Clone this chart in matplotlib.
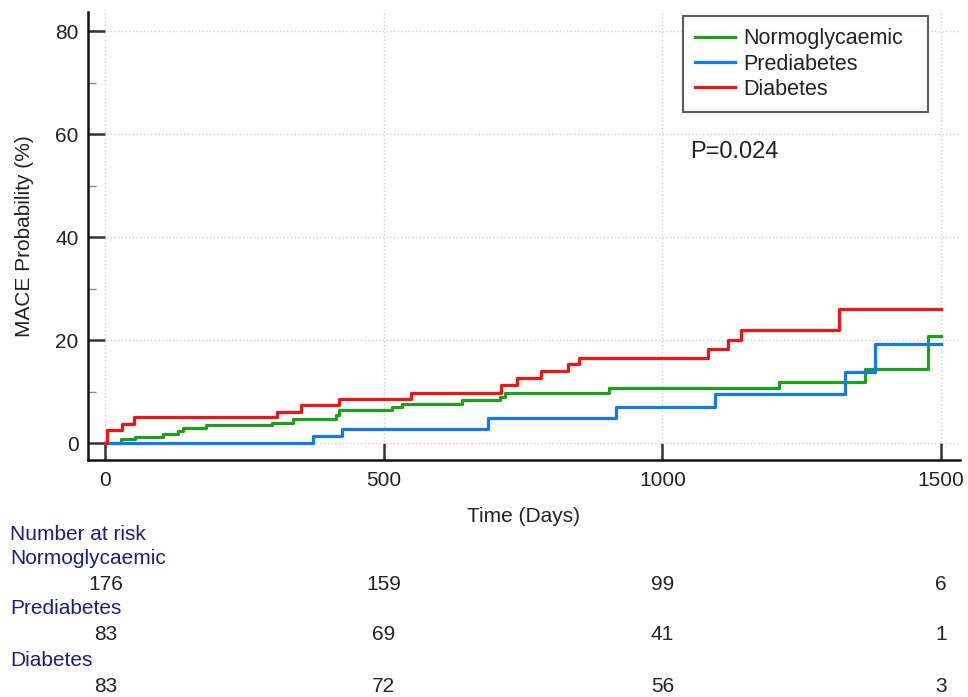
import matplotlib
matplotlib.use("Agg")
import matplotlib.pyplot as plt
from matplotlib.transforms import blended_transform_factory
from matplotlib.ticker import MultipleLocator

plt.rcParams['font.family'] = ['Liberation Sans', 'DejaVu Sans']

# ---- data ----
normo_days = [0, 28, 53, 103, 131, 139, 181, 299, 336, 414, 420, 515, 532, 640, 709, 718, 904, 1210, 1363, 1476, 1500]
normo_prob = [0, 0.7, 1.2, 1.7, 2.3, 3.0, 3.5, 3.9, 4.7, 5.4, 6.4, 6.9, 7.6, 8.3, 9.0, 9.8, 10.6, 11.9, 14.3, 20.8, 20.8]

pre_days = [0, 373, 425, 687, 917, 1094, 1327, 1382, 1500]
pre_prob = [0, 1.4, 2.7, 4.8, 6.9, 9.5, 13.8, 19.2, 19.2]

dia_days = [0, 3, 30, 52, 308, 351, 419, 548, 710, 739, 782, 831, 851, 1082, 1118, 1141, 1317, 1500]
dia_prob = [0, 2.5, 3.7, 5.0, 6.1, 7.3, 8.6, 9.8, 11.3, 12.6, 14.0, 15.3, 16.6, 18.3, 20.1, 21.9, 26.0, 26.0]

groups = ['Normoglycaemic', 'Prediabetes', 'Diabetes']
risk_times = [0, 500, 1000, 1500]
risk_normo = [176, 159, 99, 6]
risk_pre = [83, 69, 41, 1]
risk_dia = [83, 72, 56, 3]

x_ticks = [0, 500, 1000, 1500]
y_ticks = [0, 20, 40, 60, 80]
p_text = 'P=0.024'

# ---- style ----
c_green = '#1ea01e'
c_blue = '#1478ee'
c_red = '#f01414'
navy = '#1c1c8a'
fs = 15
tc = '#222222'

fig = plt.figure(figsize=(9.68, 6.97), dpi=100)
W, H = 968, 697
ax = fig.add_axes([87.5 / W, 1 - 460 / H, (960 - 87.5) / W, (460 - 12) / H])

ax.step(normo_days, normo_prob, where='post', color=c_green, lw=2.3, label=groups[0])
ax.step(pre_days, pre_prob, where='post', color=c_blue, lw=2.3, label=groups[1])
ax.step(dia_days, dia_prob, where='post', color=c_red, lw=2.3, label=groups[2])

ax.set_xlim(-32, 1534)
ax.set_ylim(-3.3, 83.7)
ax.set_xticks(x_ticks)
ax.set_yticks(y_ticks)
ax.yaxis.set_minor_locator(MultipleLocator(10))
ax.tick_params(axis='both', which='major', direction='in', length=12.5, width=1.8,
               color='#333333', labelsize=fs, labelcolor=tc)
ax.tick_params(axis='y', which='major', pad=6.5)
ax.tick_params(axis='x', which='major', pad=8)
ax.tick_params(axis='y', which='minor', direction='in', length=6, width=1.0, color='#888888')
ax.grid(True, which='major', color='#cfcfcf', linestyle=':', linewidth=1.0)
ax.set_axisbelow(True)

for s in ['top', 'right']:
    ax.spines[s].set_visible(False)
for s in ['left', 'bottom']:
    ax.spines[s].set_linewidth(1.8)
    ax.spines[s].set_color('#111111')

ax.set_xlabel('Time (Days)', fontsize=fs, color=tc, labelpad=12)
ax.set_ylabel('MACE Probability (%)', fontsize=fs, color=tc, labelpad=15)

leg = ax.legend(loc='upper left', bbox_to_anchor=(683 / W, 1 - 108 / H, 245 / W, 92 / H),
                bbox_transform=fig.transFigure, mode='expand', borderaxespad=0,
                fontsize=15.5, frameon=True, fancybox=False, handlelength=1.85,
                handletextpad=0.35, labelspacing=0.19, borderpad=0.58)
leg.get_frame().set_edgecolor('#333333')
leg.get_frame().set_linewidth(1.5)
for t in leg.get_texts():
    t.set_color(tc)

ax.text(690 / W, 1 - 152 / H, p_text, transform=fig.transFigure, fontsize=17,
        color=tc, ha='left', va='center')

# ---- number at risk ----
tr = blended_transform_factory(ax.transData, fig.transFigure)
fig.text(10 / W, 1 - 535 / H, 'Number at risk', fontsize=fs, color=navy, ha='left', va='center')
rows = [(groups[0], risk_normo, 559, 584), (groups[1], risk_pre, 609, 634), (groups[2], risk_dia, 660, 686)]
for name, vals, yn, yv in rows:
    fig.text(10 / W, 1 - yn / H, name, fontsize=fs, color=navy, ha='left', va='center')
    for t, v in zip(risk_times, vals):
        fig.text(t, 1 - yv / H, str(v), transform=tr, fontsize=fs, color=tc,
                 ha='center', va='center')

fig.savefig('out.png', dpi=100)
